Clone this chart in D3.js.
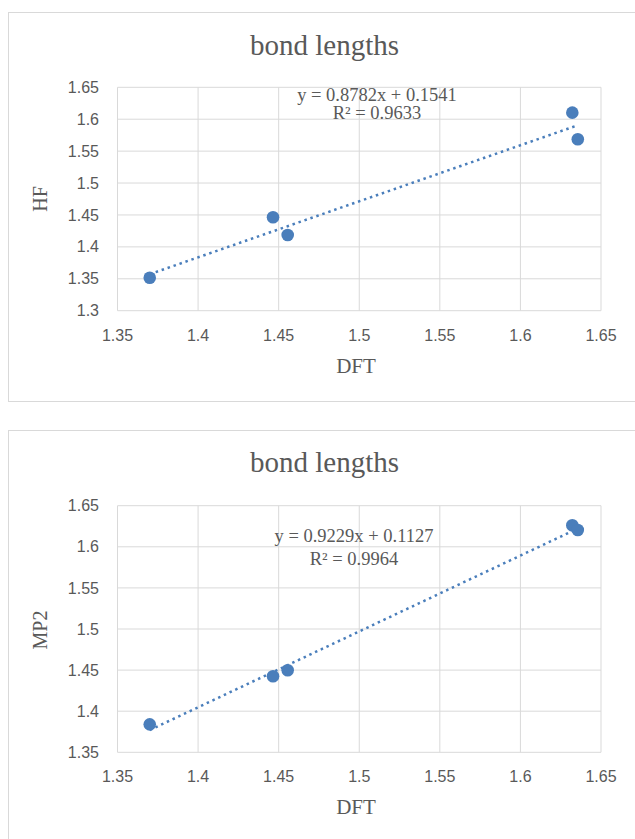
<!DOCTYPE html>
<html>
  <head>
    <meta charset="utf-8">
    <title>bond lengths</title>
    <script src="https://d3js.org/d3.v7.min.js"></script>
    <style>
      body { margin: 0; background: #fff; }
      svg { display: block; }
      .tick-label { font-family: "Liberation Sans", Arial, sans-serif; font-size: 16px; fill: #595959; }
      .serif { font-family: "Liberation Serif", "Times New Roman", serif; fill: #595959; }
    </style>
  </head>
  <body>
    <svg id="chart" width="635" height="839"></svg>
    <script>
      // data
      const dft = [1.37, 1.4465, 1.4556, 1.6322, 1.6356];
      const hf = [1.3517, 1.4464, 1.4187, 1.6103, 1.5687];
      const mp2 = [1.384, 1.4425, 1.4498, 1.6262, 1.6204];
      // trendline coefficients [slope, intercept] and R²
      const hfFit = [0.8782, 0.1541, 0.9633];
      const mp2Fit = [0.9229, 0.1127, 0.9964];
      // tick values
      const xTicks = [1.35, 1.4, 1.45, 1.5, 1.55, 1.6, 1.65];
      const hfTicks = [1.3, 1.35, 1.4, 1.45, 1.5, 1.55, 1.6, 1.65];
      const mp2Ticks = [1.35, 1.4, 1.45, 1.5, 1.55, 1.6, 1.65];

      const blue = "#4a7ebb";
      const grid = "#d9d9d9";
      const svg = d3.select("#chart");
      svg.append("rect").attr("width", 635).attr("height", 839).attr("fill", "#fff");

      function fmt(v) { return String(+v.toFixed(2)); }

      function drawChart(opt) {
        const g = svg.append("g");
        // outer chart frame
        g.append("rect")
          .attr("x", 8.5).attr("y", opt.frameTop)
          .attr("width", 700).attr("height", opt.frameHeight)
          .attr("fill", "none").attr("stroke", grid);

        const x = d3.scaleLinear().domain([1.35, 1.65]).range([117.5, 601]);
        const y = d3.scaleLinear().domain(d3.extent(opt.yTicks)).range([opt.bottom, opt.top]);

        // gridlines
        g.append("g").selectAll("line").data(xTicks).enter().append("line")
          .attr("x1", d => x(d)).attr("x2", d => x(d))
          .attr("y1", opt.top).attr("y2", opt.bottom)
          .attr("stroke", grid).attr("stroke-width", 1);
        g.append("g").selectAll("line").data(opt.yTicks).enter().append("line")
          .attr("x1", x(1.35)).attr("x2", x(1.65))
          .attr("y1", d => y(d)).attr("y2", d => y(d))
          .attr("stroke", grid).attr("stroke-width", 1);

        // tick labels
        g.append("g").selectAll("text").data(opt.yTicks).enter().append("text")
          .attr("class", "tick-label")
          .attr("x", 99).attr("y", d => y(d)).attr("dy", "0.35em")
          .attr("text-anchor", "end")
          .text(fmt);
        g.append("g").selectAll("text").data(xTicks).enter().append("text")
          .attr("class", "tick-label")
          .attr("x", d => x(d)).attr("y", opt.bottom + 30)
          .attr("text-anchor", "middle")
          .text(fmt);

        // titles
        g.append("text").attr("class", "serif")
          .attr("x", 324.5).attr("y", opt.titleY)
          .attr("text-anchor", "middle").style("font-size", "29px")
          .text("bond lengths");
        g.append("text").attr("class", "serif")
          .attr("x", 356).attr("y", opt.bottom + 62)
          .attr("text-anchor", "middle").style("font-size", "21px")
          .text("DFT");
        g.append("text").attr("class", "serif")
          .attr("transform", "translate(47," + opt.yTitleY + ") rotate(-90)")
          .attr("text-anchor", "middle").style("font-size", "20px")
          .text(opt.yName);

        // trendline
        const xs = d3.extent(dft);
        const fit = opt.fit;
        g.append("line")
          .attr("x1", x(xs[0])).attr("y1", y(fit[0] * xs[0] + fit[1]))
          .attr("x2", x(xs[1])).attr("y2", y(fit[0] * xs[1] + fit[1]))
          .attr("stroke", blue).attr("stroke-width", 2.5)
          .attr("stroke-dasharray", "2.5 3.8");

        // points
        g.append("g").selectAll("circle").data(dft).enter().append("circle")
          .attr("cx", d => x(d)).attr("cy", (d, i) => y(opt.values[i]))
          .attr("r", 6.3).attr("fill", blue);

        // equation label
        const eq = g.append("text").attr("class", "serif")
          .attr("text-anchor", "middle").style("font-size", "18.5px");
        eq.append("tspan").attr("x", opt.eqX).attr("y", opt.eqY)
          .text("y = " + fit[0].toFixed(4) + "x + " + fit[1].toFixed(4));
        eq.append("tspan").attr("x", opt.eqX).attr("y", opt.eqY + opt.eqGap)
          .text("R² = " + fit[2].toFixed(4));
      }

      drawChart({
        frameTop: 12.5, frameHeight: 389, top: 87.3, bottom: 310.7,
        yTicks: hfTicks, values: hf, fit: hfFit, yName: "HF",
        titleY: 55, yTitleY: 199, eqX: 377, eqY: 100.5, eqGap: 18.5
      });
      drawChart({
        frameTop: 430.5, frameHeight: 500, top: 505.7, bottom: 752.3,
        yTicks: mp2Ticks, values: mp2, fit: mp2Fit, yName: "MP2",
        titleY: 472, yTitleY: 630, eqX: 354, eqY: 542, eqGap: 23
      });
    </script>
  </body>
</html>
